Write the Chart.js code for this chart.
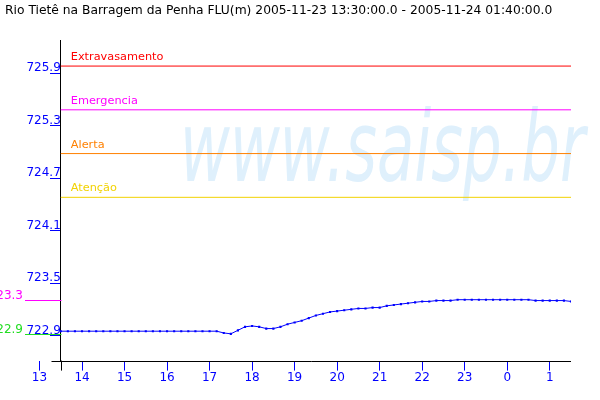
<!DOCTYPE html>
<html>
<head>
<meta charset="utf-8">
<script src="https://cdn.jsdelivr.net/npm/chart.js@4/dist/chart.umd.min.js"></script>
<style>
  html, body { margin: 0; padding: 0; background: #ffffff; }
  canvas { display: block; }
</style>
</head>
<body>
<canvas id="c" width="600" height="400"></canvas>
<script>
// ---- data ----
const titleText = "Rio Tietê na Barragem da Penha FLU(m) 2005-11-23 13:30:00.0 - 2005-11-24 01:40:00.0";
const watermarkText = "www.saisp.br";

const times = [
  "13:30","13:40","13:50","14:00","14:10","14:20","14:30","14:40","14:50",
  "15:00","15:10","15:20","15:30","15:40","15:50","16:00","16:10","16:20",
  "16:30","16:40","16:50","17:00","17:10","17:20","17:30","17:40","17:50",
  "18:00","18:10","18:20","18:30","18:40","18:50","19:00","19:10","19:20",
  "19:30","19:40","19:50","20:00","20:10","20:20","20:30","20:40","20:50",
  "21:00","21:10","21:20","21:30","21:40","21:50","22:00","22:10","22:20",
  "22:30","22:40","22:50","23:00","23:10","23:20","23:30","23:40","23:50",
  "00:00","00:10","00:20","00:30","00:40","00:50","01:00","01:10","01:20","01:30"
];
const levels = [
  722.97,722.97,722.97,722.97,722.97,722.97,722.97,722.97,722.97,
  722.97,722.97,722.97,722.97,722.97,722.97,722.97,722.97,722.97,
  722.97,722.97,722.97,722.97,722.97,722.95,722.94,722.98,723.02,
  723.03,723.02,723.00,723.00,723.02,723.05,723.07,723.09,723.12,
  723.15,723.17,723.19,723.20,723.21,723.22,723.23,723.23,723.24,
  723.24,723.26,723.27,723.28,723.29,723.30,723.31,723.31,723.32,
  723.32,723.32,723.33,723.33,723.33,723.33,723.33,723.33,723.33,
  723.33,723.33,723.33,723.33,723.32,723.32,723.32,723.32,723.32,723.31
];

const thresholdNames  = ["Extravasamento", "Emergencia", "Alerta", "Atenção"];
const thresholdValues = [726.0, 725.5, 725.0, 724.5];
const thresholdColors = ["#ff0000", "#ff00ff", "#ff8000", "#f2d200"];

const xTickValues = [13,14,15,16,17,18,19,20,21,22,23,24,25];
const xTickLabels = ["13","14","15","16","17","18","19","20","21","22","23","0","1"];
const yTickValues = [722.92, 723.52, 724.12, 724.72, 725.32, 725.92];
const yTickLabels = ["722.9","723.5","724.1","724.7","725.3","725.9"];

const xStart = 13.5, xEnd = 25.5;     // 13:30 .. 01:30 (hours since midnight of day 1)
const yMin = 722.634, yMax = 726.298;

// ---- helpers ----
function toHours(t) {
  const [h, m] = t.split(":").map(Number);
  let v = h + m / 60;
  if (v < 12) v += 24;
  return v;
}
const FONT = '"DejaVu Sans", Verdana, sans-serif';

const linePoints = times.map((t, i) => ({ x: toHours(t), y: levels[i] }));
const thresholdSets = thresholdValues.map((v, k) => ({
  data: [{ x: xStart, y: v }, { x: xEnd, y: v }],
  borderColor: thresholdColors[k],
  borderWidth: 1,
  pointRadius: 0,
  tension: 0
}));

const maxVal = Math.max(...levels);
const minVal = Math.min(...levels);

const decorPlugin = {
  id: 'decor',
  beforeDatasetsDraw(chart) {
    const { ctx } = chart;
    ctx.save();
    ctx.fillStyle = '#dff0fc';
    ctx.font = 'italic 61px ' + FONT;
    ctx.textBaseline = 'alphabetic';
    ctx.textAlign = 'left';
    ctx.translate(180, 181);
    ctx.scale(1.0, 1.62);
    ctx.fillText(watermarkText, 0, 0);
    ctx.restore();
  },
  afterDraw(chart) {
    const { ctx, chartArea, scales } = chart;
    const xs = scales.x, ys = scales.y;
    ctx.save();
    // title
    ctx.fillStyle = '#000000';
    ctx.font = '12.3px ' + FONT;
    ctx.textAlign = 'left';
    ctx.textBaseline = 'middle';
    ctx.fillText(titleText, 5, 11);

    // threshold labels
    ctx.font = '11.3px ' + FONT;
    const lx = xs.getPixelForValue(xStart) + 10;
    thresholdValues.forEach((v, k) => {
      const py = ys.getPixelForValue(v);
      ctx.fillStyle = thresholdColors[k];
      ctx.fillText(thresholdNames[k], lx, py - 9);
    });

    // axis lines: x axis from just left of the y axis, y axis extended below
    const ax = Math.round(xs.getPixelForValue(xStart)) + 0.5;
    const by = Math.round(chartArea.bottom) + 0.5;
    ctx.strokeStyle = '#000000';
    ctx.lineWidth = 1;
    ctx.beginPath();
    ctx.moveTo(ax - 10, by);
    ctx.lineTo(chartArea.right, by);
    ctx.moveTo(ax, chartArea.bottom);
    ctx.lineTo(ax, chartArea.bottom + 10);
    ctx.stroke();

    // min / max markers left of the axis
    ctx.font = '12px ' + FONT;
    const marks = [
      { v: maxVal, c: '#ff00ff' },
      { v: minVal, c: '#22dd22' }
    ];
    marks.forEach(m => {
      const py = Math.round(ys.getPixelForValue(m.v)) + 0.5;
      ctx.strokeStyle = m.c;
      ctx.beginPath();
      ctx.moveTo(25, py);
      ctx.lineTo(ax, py);
      ctx.stroke();
      ctx.fillStyle = m.c;
      ctx.textAlign = 'right';
      ctx.fillText(m.v.toFixed(1), 23, py - 5);
    });
    ctx.restore();
  }
};

new Chart(document.getElementById('c'), {
  type: 'line',
  data: {
    datasets: [
      ...thresholdSets,
      {
        data: linePoints,
        borderColor: '#0000ff',
        backgroundColor: '#0000ff',
        borderWidth: 1,
        pointStyle: 'rect',
        pointRadius: 1.5,
        pointBorderWidth: 0,
        tension: 0
      }
    ]
  },
  options: {
    responsive: false,
    animation: false,
    events: [],
    layout: { padding: { left: 39.5, right: 29, top: 40, bottom: 15 } },
    plugins: {
      legend: { display: false },
      title: { display: false },
      tooltip: { enabled: false }
    },
    scales: {
      x: {
        type: 'linear',
        min: 13,
        max: xEnd,
        position: 'bottom',
        afterBuildTicks: s => { s.ticks = xTickValues.map(v => ({ value: v })); },
        ticks: {
          autoSkip: false,
          maxRotation: 0,
          padding: 0,
          color: '#0000ff',
          font: { family: FONT, size: 12 },
          callback: (v) => xTickLabels[xTickValues.indexOf(v)]
        },
        grid: { drawOnChartArea: false, drawTicks: true, tickLength: 10, color: '#0000ff' },
        border: { display: false }
      },
      y: {
        type: 'linear',
        min: yMin,
        max: yMax,
        position: { x: xStart },
        afterBuildTicks: s => { s.ticks = yTickValues.map(v => ({ value: v })); },
        ticks: {
          autoSkip: false,
          padding: -10,
          labelOffset: -5,
          color: '#0000ff',
          font: { family: FONT, size: 12 },
          callback: (v) => yTickLabels[yTickValues.indexOf(v)]
        },
        grid: { drawOnChartArea: false, drawTicks: true, tickLength: 10, color: '#0000ff' },
        border: { display: true, color: '#000000', width: 1 }
      }
    }
  },
  plugins: [decorPlugin]
});
</script>
</body>
</html>
